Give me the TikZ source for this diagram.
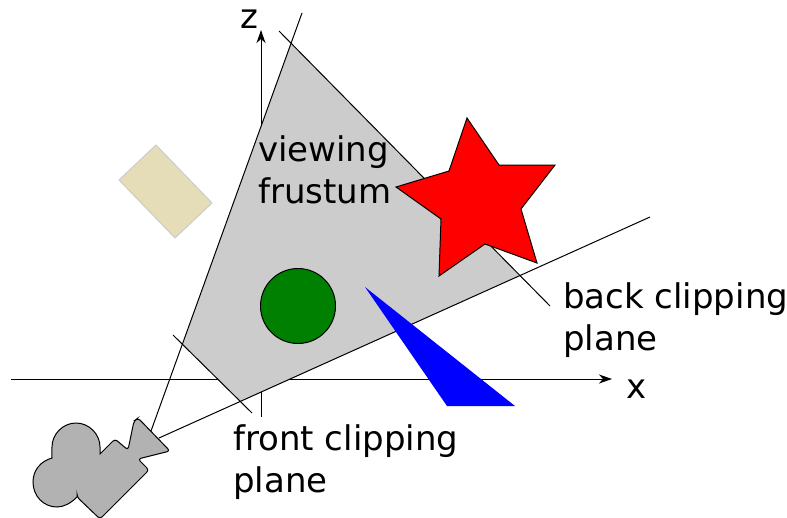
\documentclass[tikz,border=0pt]{standalone}
\usepackage{fontspec}
\setmainfont{DejaVu Sans}
\usetikzlibrary{arrows.meta}
\tikzset{
    planeline/.style={line width=1pt, black},
    axisline/.style={line width=1pt, black, -{Stealth[length=13pt, width=9pt, inset=4pt]}},
    label/.style={font=\fontsize{34}{42}\selectfont, align=left, anchor=west, inner sep=0pt}
}
\begin{document}
\begin{tikzpicture}[x=1pt, y=-1pt]
    \useasboundingbox (0,0) rectangle (787,517);
    % Axes
    \coordinate (xstart) at (11,379);
    \coordinate (xend) at (612,379);
    \coordinate (zstart) at (261,417);
    \coordinate (zend) at (261,30);
    \draw[axisline] (xstart) -- (xend);
    \draw[axisline] (zstart) -- (zend);
    \node[label] (xlabel) at (626,389) {x};
    \node[label] (zlabel) at (240,19) {z};
    % Viewing cone and clipping planes
    \coordinate (coneleft) at (151,431);
    \coordinate (coneleftend) at (302,13);
    \coordinate (coneright) at (159,438);
    \coordinate (conerightend) at (650,217);
    \coordinate (frontstart) at (173,335);
    \coordinate (frontend) at (252,413);
    \coordinate (backstart) at (279,31);
    \coordinate (backend) at (550,306);
    % Frustum
    \fill[black!20] (intersection of coneleft--coneleftend and backstart--backend)
        -- (intersection of coneright--conerightend and backstart--backend)
        -- (intersection of coneright--conerightend and frontstart--frontend)
        -- (intersection of coneleft--coneleftend and frontstart--frontend) -- cycle;
    \draw[planeline] (coneleft) -- (coneleftend);
    \draw[planeline] (coneright) -- (conerightend);
    \draw[planeline] (frontstart) -- (frontend);
    \draw[planeline] (backstart) -- (backend);
    % Objects
    \draw[black!20, fill={rgb,255:red,229;green,220;blue,184}, line width=1pt] (156,145) -- (212,203) -- (175,238) -- (119,180) -- cycle;
    \draw[black, fill={rgb,255:red,0;green,128;blue,0}, line width=1pt] (298,306) circle (37.5);
    \fill[blue] (365,287) -- (515,406) -- (447,406) -- cycle;
    \draw[black, fill=red, line width=1pt] (467,118) -- (499,165) -- (555,165) -- (521,209) -- (537,263) -- (485,244) -- (439,276) -- (441,219) -- (396,187) -- (449,171) -- cycle;
    % Camera
    \draw[black, fill=black!30, line width=1pt] (77,497)
        .. controls (71,503) and (64,507) .. (57,507)
        .. controls (43.5,507) and (33,496) .. (33,482)
        .. controls (33,470) and (41,461) .. (52,458)
        .. controls (51.5,455) and (52,451) .. (52,447)
        .. controls (52,434) and (63,423) .. (76,423)
        .. controls (89,423) and (100,434) .. (100,447)
        .. controls (100,450) and (100,452) .. (100,454)
        [rounded corners=3pt] -- (115,439) -- (128,450) -- (134,421) -- (138,418) -- (170,451) -- (138,459) -- (149,470) -- (100,519) -- (77,497) [sharp corners] -- cycle;
    % Labels
    \node[label] (frustumlabel) at (258,169.5) {viewing\\frustum};
    \node[label] (backlabel) at (563,320) {back clipping\\plane};
    \node[label] (frontlabel) at (233,462) {front clipping\\plane};
\end{tikzpicture}
\end{document}
